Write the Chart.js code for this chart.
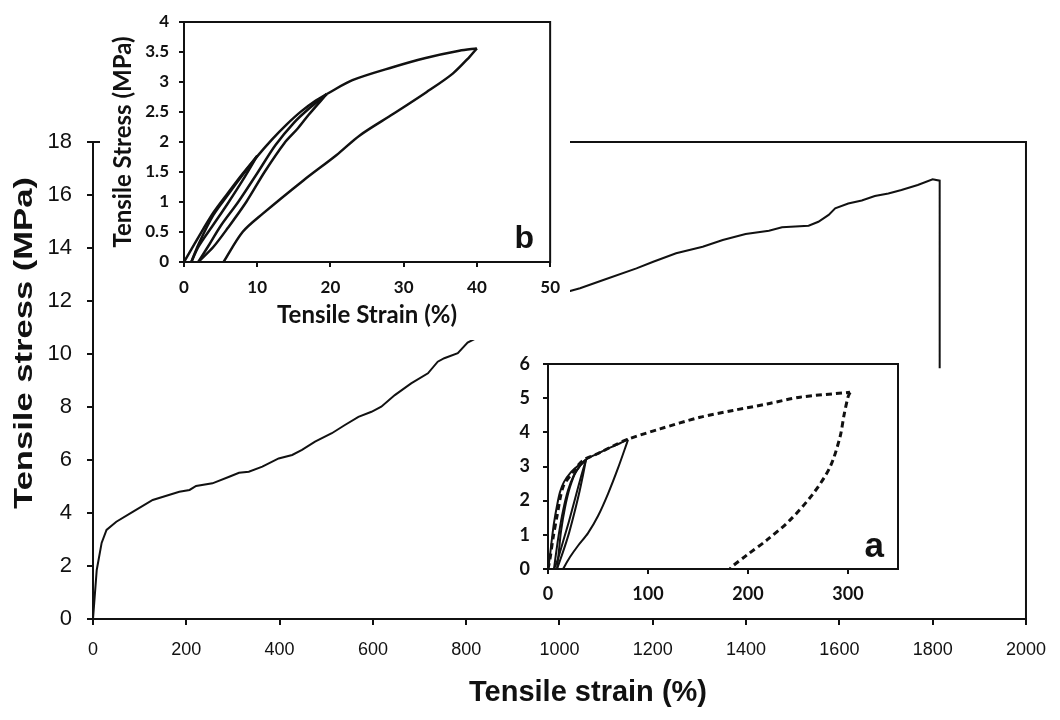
<!DOCTYPE html>
<html lang="en">
<head>
<meta charset="UTF-8" />
<title>Tensile stress-strain</title>
<script src="https://cdn.jsdelivr.net/npm/chart.js"></script>
<style>
  body { margin: 0; background: #fff; }
  .wrap { position: relative; width: 1060px; height: 720px; overflow: hidden; }
  canvas { position: absolute; background: #fff; }
  #main { left: 0; top: 0; }
  #insetB { left: 100px; top: 0; }
  #insetA { left: 500px; top: 340px; }
</style>
</head>
<body>
<div class="wrap">
  <canvas id="main" width="1060" height="720"></canvas>
  <canvas id="insetB" width="470" height="340"></canvas>
  <canvas id="insetA" width="405" height="263"></canvas>
</div>

<script>
// main curve: strain (%) and stress (MPa)
const mainStrain = [0, 8, 18.5, 29, 50, 86, 128, 185, 207, 221, 256, 292, 313, 334, 363, 398, 427, 448, 476, 512, 540, 569, 597, 618, 647, 682, 718, 739, 753, 782, 803,
  1017, 1044, 1094, 1165, 1201, 1250, 1307, 1350, 1399, 1449, 1477, 1534, 1555, 1577, 1591, 1619, 1648, 1676, 1705, 1733, 1768, 1800, 1815, 1815, 1815];
const mainStress = [0, 1.85, 2.87, 3.36, 3.67, 4.05, 4.49, 4.8, 4.87, 5.02, 5.12, 5.37, 5.52, 5.56, 5.75, 6.06, 6.19, 6.38, 6.69, 7.01, 7.32, 7.63, 7.82, 8.01, 8.45, 8.89, 9.27, 9.71, 9.84, 10.03, 10.43,
  12.35, 12.48, 12.79, 13.23, 13.48, 13.8, 14.05, 14.3, 14.53, 14.65, 14.78, 14.84, 14.99, 15.25, 15.5, 15.68, 15.79, 15.96, 16.06, 16.19, 16.38, 16.59, 16.54, 16.38, 9.46];
const mainXTicks = [0, 200, 400, 600, 800, 1000, 1200, 1400, 1600, 1800, 2000];
const mainYTicks = [0, 2, 4, 6, 8, 10, 12, 14, 16, 18];

// inset b: cycles to 10, 20 and 40 %
const bLoad10 = [[0, 0], [2, 0.42], [4, 0.82], [6, 1.15], [8, 1.47], [10, 1.77]];
const bUnload10 = [[10, 1.77], [8, 1.36], [6, 0.98], [4, 0.62], [2, 0.26], [1, 0]];
const bLoad20 = [[1, 0], [2, 0.3], [4, 0.78], [6, 1.12], [8, 1.45], [10, 1.76], [12, 2.04], [14, 2.29], [16, 2.51], [18, 2.69], [19.5, 2.8]];
const bUnload20 = [[19.5, 2.8], [17, 2.45], [15.5, 2.22], [13.7, 1.98], [11, 1.5], [8.5, 1.0], [6, 0.57], [4, 0.25], [1.95, 0]];
const bReload20 = [[1.95, 0], [3.5, 0.3], [5, 0.6], [7.4, 1.0], [10, 1.48], [12.5, 1.95], [15, 2.32], [17, 2.55], [19.5, 2.8]];
const bLoad40 = [[19.5, 2.8], [23, 3.03], [28.6, 3.25], [33, 3.4], [37.6, 3.52], [40, 3.56]];
const bUnload40 = [[40, 3.56], [39, 3.42], [36.7, 3.14], [33.1, 2.83], [28.6, 2.47], [24, 2.11], [20.8, 1.78], [16.3, 1.36], [10.8, 0.81], [8, 0.5], [5.4, 0]];
const bXTicks = [0, 10, 20, 30, 40, 50];
const bYTicks = [0, 0.5, 1, 1.5, 2, 2.5, 3, 3.5, 4];

// inset a: solid cycles to 40 and 80 %, dashed cycle to 300 %
const aLoad40 = [[0, 0], [2, 0.4], [4, 0.9], [6, 1.35], [9, 1.85], [12, 2.25], [16, 2.55], [22, 2.8], [30, 3.02], [38, 3.2]];
const aUnload40a = [[38, 3.2], [33, 2.7], [27, 2.05], [21, 1.4], [15, 0.8], [10, 0.3], [6, 0]];
const aReload40 = [[6, 0], [8, 0.45], [11, 1.05], [15, 1.7], [20, 2.3], [26, 2.75], [32, 3.02], [38, 3.2]];
const aUnload40b = [[38, 3.2], [35, 2.75], [31, 2.2], [26, 1.6], [21, 1.05], [15, 0.5], [9, 0]];
const aLoad80 = [[9, 0], [11, 0.55], [13, 1.1], [17, 1.8], [22, 2.4], [28, 2.85], [38, 3.2], [50, 3.38], [62, 3.55], [72, 3.68], [80, 3.8]];
const aUnload80 = [[80, 3.78], [70, 2.95], [60, 2.2], [50, 1.55], [40, 1.05], [30, 0.68], [22, 0.35], [15, 0]];
const aDashLoad = [[0, 0], [2, 0.3], [5, 0.9], [9, 1.55], [15, 2.4], [24, 2.8], [35, 3.18], [50, 3.38], [65, 3.6], [80, 3.8], [112, 4.1], [152, 4.44], [185, 4.64], [219, 4.83], [252, 5.03], [302, 5.17]];
const aDashUnload = [[302, 5.17], [300, 5.03], [296, 4.5], [292, 3.86], [282, 2.98], [265, 2.2], [242, 1.43], [219, 0.85], [199, 0.41], [184, 0.07], [182, 0]];
const aXTicks = [0, 100, 200, 300];
const aYTicks = [0, 1, 2, 3, 4, 5, 6];

const ink = '#111';
const arial = "'Liberation Sans', Arial, sans-serif";
const lato = "Lato, 'Open Sans', sans-serif";

const toPoints = pairs => pairs.map(p => ({ x: p[0], y: p[1] }));

function line(pairs, width, dash, tension) {
  return {
    data: toPoints(pairs),
    showLine: true,
    borderColor: ink,
    borderWidth: width,
    borderDash: dash || [],
    pointRadius: 0,
    tension: tension || 0
  };
}

// box round the plot area (top and right sides too)
const framePlugin = {
  id: 'frame',
  afterDraw(chart) {
    const { ctx, chartArea: a } = chart;
    ctx.save();
    ctx.strokeStyle = ink;
    ctx.lineWidth = 2;
    ctx.strokeRect(a.left, a.top, a.right - a.left, a.bottom - a.top);
    ctx.restore();
  }
};

// free text: axis titles of the main chart and panel letters
function textLayer(items) {
  return {
    id: 'textLayer',
    afterDraw(chart) {
      const ctx = chart.ctx;
      items.forEach(t => {
        ctx.save();
        ctx.translate(t.x, t.y);
        if (t.rotate) ctx.rotate(t.rotate);
        if (t.stretch) ctx.scale(t.stretch, 1);
        ctx.font = t.font;
        ctx.fillStyle = ink;
        ctx.textAlign = t.align || 'center';
        ctx.textBaseline = t.baseline || 'middle';
        ctx.fillText(t.text, 0, 0);
        ctx.restore();
      });
    }
  };
}

function axis(opts) {
  return {
    type: 'linear',
    min: opts.min,
    max: opts.max,
    afterBuildTicks: s => { s.ticks = opts.ticks.map(v => ({ value: v })); },
    afterFit: s => { if (opts.width) s.width = opts.width; if (opts.height) s.height = opts.height; },
    grid: { drawOnChartArea: false, color: ink, lineWidth: 2, tickLength: opts.tickLength || 5 },
    border: { color: ink, width: 2 },
    ticks: {
      autoSkip: false,
      maxRotation: 0,
      padding: opts.padding,
      color: ink,
      font: opts.font,
      callback: v => String(v)
    },
    title: opts.title || { display: false }
  };
}

const baseOptions = {
  responsive: false,
  animation: false,
  events: [],
  plugins: { legend: { display: false }, tooltip: { enabled: false } }
};

// main chart
new Chart(document.getElementById('main'), {
  type: 'scatter',
  data: { datasets: [line(mainStrain.map((x, i) => [x, mainStress[i]]), 2)] },
  options: {
    ...baseOptions,
    layout: { padding: { left: 0, top: 142, right: 28, bottom: 0 } },
    scales: {
      x: axis({ min: 0, max: 2000, ticks: mainXTicks, height: 101, padding: 14, tickLength: 6,
        font: { family: arial, size: 18 } }),
      y: axis({ min: 0, max: 18, ticks: mainYTicks, width: 93, padding: 15, tickLength: 6,
        font: { family: arial, size: 22 } })
    }
  },
  plugins: [framePlugin, textLayer([
    { text: 'Tensile strain (%)', x: 588, y: 693, font: 'bold 29px ' + arial },
    { text: 'Tensile stress (MPa)', x: 25, y: 343, rotate: -Math.PI / 2, stretch: 1.33, font: 'bold 26px ' + arial }
  ])]
});

// inset b
new Chart(document.getElementById('insetB'), {
  type: 'scatter',
  data: {
    datasets: [bLoad10, bUnload10, bLoad20, bUnload20, bReload20, bLoad40, bUnload40].map(s => line(s, 2.5, null, 0.3))
  },
  options: {
    ...baseOptions,
    layout: { padding: { left: 0, top: 22, right: 19, bottom: 0 } },
    scales: {
      x: axis({ min: 0, max: 50, ticks: bXTicks, height: 78, padding: 10,
        font: { family: lato, size: 17, weight: 'bold' },
        title: { display: true, text: 'Tensile Strain (%)', color: ink, padding: { top: 0, bottom: 10 },
          font: { family: lato, size: 24, weight: 'bold' } } }),
      y: axis({ min: 0, max: 4, ticks: bYTicks, width: 84, padding: 10,
        font: { family: lato, size: 17, weight: 'bold' },
        title: { display: true, text: 'Tensile Stress (MPa)', color: ink, padding: { top: 9, bottom: 0 },
          font: { family: lato, size: 24, weight: 'bold' } } })
    }
  },
  plugins: [framePlugin, textLayer([
    { text: 'b', x: 434, y: 248, align: 'right', baseline: 'alphabetic', font: 'bold 32px ' + arial }
  ])]
});

// inset a
new Chart(document.getElementById('insetA'), {
  type: 'scatter',
  data: {
    datasets: [
      ...[aLoad40, aUnload40a, aReload40, aUnload40b, aLoad80, aUnload80].map(s => line(s, 2, null, 0.3)),
      line(aDashLoad, 3, [6, 4], 0.3),
      line(aDashUnload, 3, [6, 4], 0.3)
    ]
  },
  options: {
    ...baseOptions,
    layout: { padding: { left: 0, top: 24, right: 7, bottom: 0 } },
    scales: {
      x: axis({ min: 0, max: 350, ticks: aXTicks, height: 34, padding: 9,
        font: { family: lato, size: 18, weight: 'bold' } }),
      y: axis({ min: 0, max: 6, ticks: aYTicks, width: 48, padding: 13,
        font: { family: lato, size: 18, weight: 'bold' } })
    }
  },
  plugins: [framePlugin, textLayer([
    { text: 'a', x: 384, y: 217, align: 'right', baseline: 'alphabetic', font: 'bold 35px ' + arial }
  ])]
});
</script>
</body>
</html>
